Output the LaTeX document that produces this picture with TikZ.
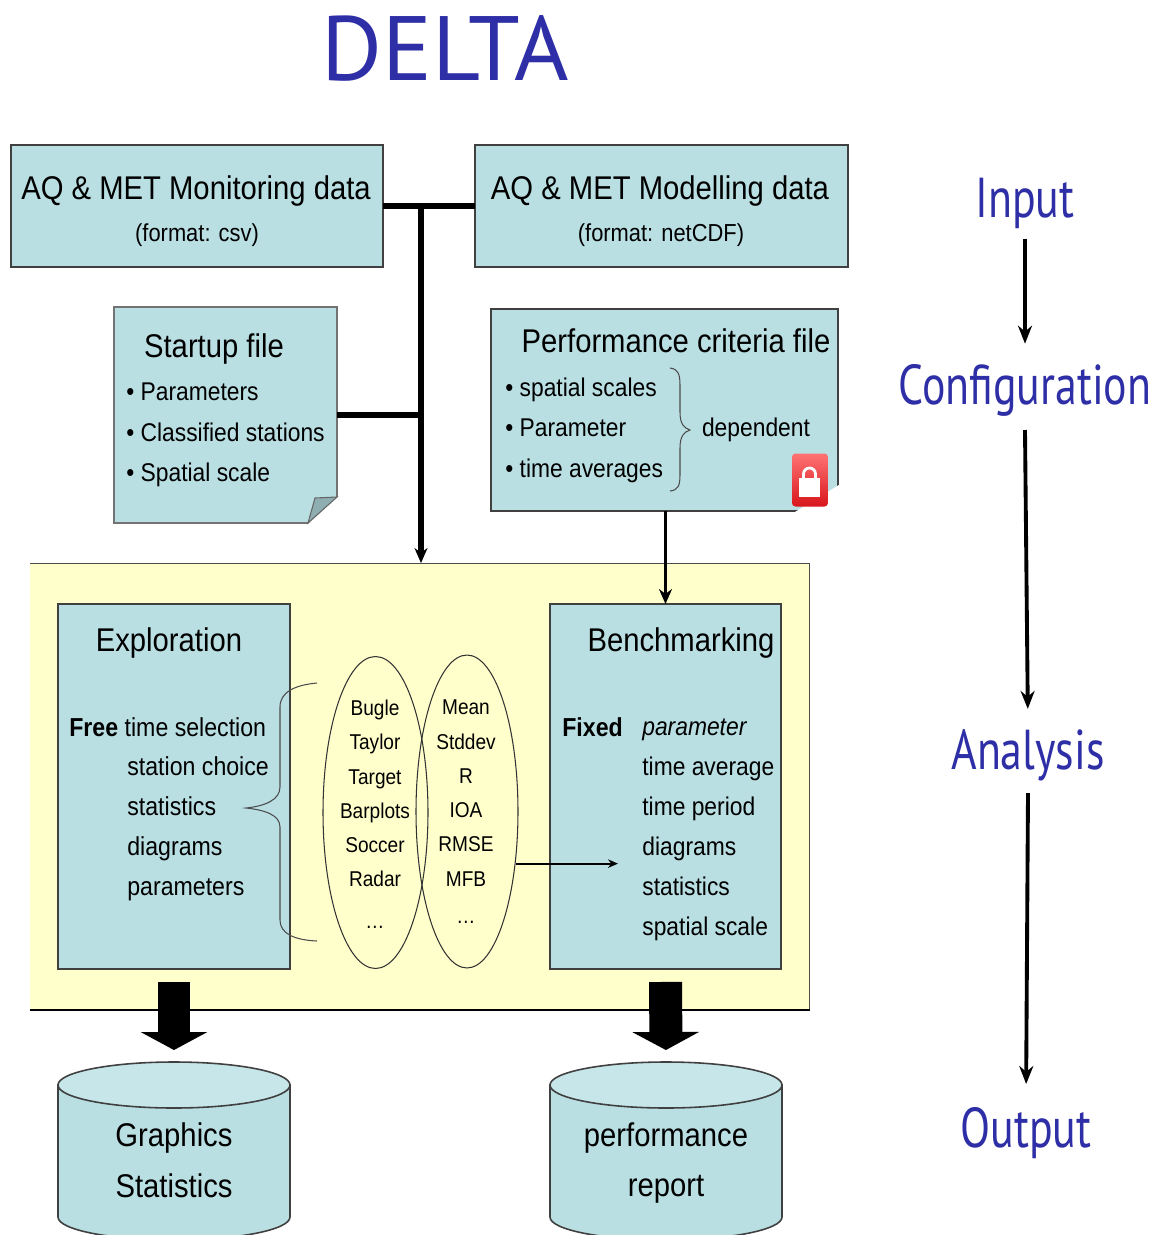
\documentclass[tikz,border=0pt]{standalone}
\usepackage{fontspec}
\setmainfont[FakeStretch=0.89]{Liberation Sans}
\newfontfamily\handfont[FakeStretch=0.78]{PT Sans}
\newfontfamily\headfont[FakeStretch=1.02]{PT Sans}
\usetikzlibrary{shapes,arrows,arrows.meta,positioning}
\definecolor{boxcyan}{HTML}{B9DFE3}
\definecolor{capcyan}{HTML}{C6E6E9}
\definecolor{panelyellow}{HTML}{FFFFCC}
\definecolor{handblue}{HTML}{2E2EA6}
\definecolor{foldgrey}{HTML}{8FAEB2}
\definecolor{lockred}{HTML}{D8161C}
\newcommand{\bigfont}{\fontsize{18.7}{22}\selectfont}
\newcommand{\subfont}{\fontsize{14}{18}\selectfont}
\newcommand{\listfont}{\fontsize{14.6}{23}\selectfont}
\newcommand{\stagefont}{\fontsize{14.8}{22.7}\selectfont}
\newcommand{\ellfont}{\fontsize{12.2}{19.5}\selectfont}
\begin{document}
\begin{tikzpicture}[x=0.02cm, y=-0.02cm,
    box/.style={rectangle, draw=black!75, fill=boxcyan, line width=0.9pt, inner sep=0pt, outer sep=0pt},
    blob/.style={ellipse, draw=black!80, line width=0.6pt, inner sep=0pt, minimum width=2.1cm, minimum height=6.24cm},
    store/.style={rectangle, inner sep=0pt, outer sep=0pt, minimum width=4.64cm, minimum height=3.56cm},
    storeline/.style={draw=black!75, line width=0.9pt},
    title/.style={font=\bigfont, inner sep=0pt},
    items/.style={font=\listfont, align=left, anchor=west, inner sep=0pt},
    stage/.style={font=\stagefont, align=left, anchor=west, inner sep=0pt},
    names/.style={font=\ellfont, align=center, inner sep=0pt},
    hand/.style={font=\handfont\fontsize{32}{36}\selectfont, text=handblue, inner sep=0pt},
    feed/.style={line width=3.2pt},
    arrow/.style={-{Stealth[length=0.3cm, width=0.26cm]}, line width=3pt},
    thin arrow/.style={-{Stealth[length=0.2cm, width=0.17cm]}, line width=1pt},
    flow/.style={-{Triangle[width=1.32cm, length=0.36cm]}, line width=0.66cm},
    stagearrow/.style={-{Stealth[length=0.36cm, width=0.28cm]}, line width=2.2pt},
    curly/.style={draw=black!70, line width=0.6pt}
]
    \clip (0,0) rectangle (1159,1235);

    \node[hand, font=\headfont\fontsize{52}{56}\selectfont] (delta) at (445,48) {DELTA};

    % input boxes
    \node[box, minimum width=7.44cm, minimum height=2.44cm] (monitoring) at (197,206) {};
    \node[title] (monitoringtxt) at (196,191) {AQ \& MET Monitoring data};
    \node[font=\subfont, inner sep=0pt] (monitoringfmt) at (197,235) {(format: csv)};
    \node[box, minimum width=7.46cm, minimum height=2.44cm] (modelling) at (661.5,206) {};
    \node[title] (modellingtxt) at (660,191) {AQ \& MET Modelling data};
    \node[font=\subfont, inner sep=0pt] (modellingfmt) at (661,235) {(format: netCDF)};

    % startup note
    \node[box, draw=black!55, minimum width=4.46cm, minimum height=4.32cm] (startup) at (225.5,415) {};
    \fill[white] (337.8,497) -- (337.8,524) -- (308,524) -- cycle;
    \draw[black!60, fill=foldgrey, line width=0.6pt] (337,497) -- (315,498) -- (308,523) -- cycle;
    \node[title] (startuptxt) at (214,349) {Startup file};
    \node[items] (startuplist) at (126,435) {\textbullet\ Parameters\\\textbullet\ Classified stations\\\textbullet\ Spatial scale};

    % criteria note
    \node[box, minimum width=6.94cm, minimum height=4.04cm] (criteria) at (664.5,410) {};
    \fill[white] (838.8,485) -- (838.8,512) -- (795,512) -- cycle;
    \node[title] (criteriatxt) at (676,341) {Performance criteria file};
    \node[items] (criterialist) at (505,430) {\textbullet\ spatial scales\\\textbullet\ Parameter\\\textbullet\ time averages};
    \draw[curly] (670,368) .. controls (678,369) and (680,374) .. (680,385) -- (680,412) .. controls (680,424) and (684,428) .. (690,430) .. controls (684,432) and (680,436) .. (680,448) -- (680,475) .. controls (680,486) and (678,490) .. (670,491);
    \node[font=\listfont, inner sep=0pt] (dependent) at (756,430) {dependent};
    \node[rectangle, rounded corners=2pt, top color=red!55!white, bottom color=lockred, minimum width=0.72cm, minimum height=1.06cm, inner sep=0pt] (lock) at (810,480) {};
    \draw[white, line width=1.6pt] (803.5,479) -- (803.5,474) arc[start angle=180, end angle=0, x radius=6, y radius=-6] -- (815.5,479);
    \fill[white] (799,478) rectangle (820,497);

    % working panel
    \node[rectangle, fill=panelyellow, minimum width=15.6cm, minimum height=8.94cm, inner sep=0pt, outer sep=0pt] (panel) at (420,786.5) {};
    \draw[black!70, line width=0.6pt] (panel.north west) -- (panel.north east) -- (panel.south east);
    \draw[line width=1.1pt] (panel.south west) -- (panel.south east);

    \node[box, minimum width=4.64cm, minimum height=7.3cm] (explore) at (174,786.5) {};
    \node[title] (exploretxt) at (169,643) {Exploration};
    \node[stage] (freelist) at (69,727) {\textbf{Free} time selection};
    \node[stage] (explorelist) at (127,829) {station choice\\statistics\\diagrams\\parameters};

    \node[box, minimum width=4.62cm, minimum height=7.3cm] (bench) at (665.5,786.5) {};
    \node[title] (benchtxt) at (681,643) {Benchmarking};
    \node[stage] (fixedtxt) at (562,727) {\textbf{Fixed}};
    \node[stage, font=\fontsize{14.6}{22.7}\selectfont] (benchlist) at (642,830) {\textit{parameter}\\time average\\time period\\diagrams\\statistics\\spatial scale};

    \draw[curly] (317,683) .. controls (295,685) and (280,692) .. (280,707) -- (280,787) .. controls (280,800) and (265,806) .. (246,808) .. controls (265,810) and (280,815) .. (280,827) -- (280,920) .. controls (280,934) and (295,940) .. (317,941);

    \node[blob] (diagrams) at (375.5,812.5) {};
    \node[blob, minimum width=2.04cm, minimum height=6.26cm] (measures) at (467,811.5) {};
    \node[names] (diagramnames) at (375,814) {Bugle\\Taylor\\Target\\Barplots\\Soccer\\Radar\\[4pt]\dots};
    \node[names] (measurenames) at (466,812) {Mean\\Stddev\\R\\IOA\\RMSE\\MFB\\[2pt]\dots};

    % outputs
    \node[store] (graphics) at (174,1151) {};
    \draw[storeline, fill=boxcyan] (58,1085) -- (58,1217) arc[start angle=180, end angle=360, x radius=116, y radius=-23] -- (290,1085) -- cycle;
    \draw[storeline, fill=capcyan] (174,1085) ellipse [x radius=116, y radius=23];
    \node[title, align=center, font=\fontsize{18.7}{29}\selectfont] (graphicstxt) at (174,1160) {Graphics\\Statistics};
    \node[store] (report) at (666,1151) {};
    \draw[storeline, fill=boxcyan] (550,1085) -- (550,1217) arc[start angle=180, end angle=360, x radius=116, y radius=-23] -- (782,1085) -- cycle;
    \draw[storeline, fill=capcyan] (666,1085) ellipse [x radius=116, y radius=23];
    \node[title, align=center, font=\fontsize{18.7}{29}\selectfont] (reporttxt) at (666,1163) {performance\\report};

    % connectors
    \coordinate (junction) at (421,206);
    \coordinate (statsin) at (618,862);
    \draw[feed] (monitoring) -- (modelling);
    \draw[feed] (startup) -- (startup -| junction);
    \draw[arrow] (junction) -- (panel.north -| junction);
    \draw[arrow, line width=1.8pt] (criteria.south -| bench.north) -- (bench.north);
    \draw[thin arrow] (measures.-47) -- (measures.-47 -| statsin);
    \draw[flow, shorten <=0.26cm, shorten >=0.24cm] (explore.south) -- (graphics.north);
    \draw[flow, shorten <=0.26cm, shorten >=0.24cm] (bench.south) -- (report.north);

    % stages
    \node[hand] (input) at (1025,203) {Input};
    \node[hand] (config) at (1025,390) {Configuration};
    \node[hand] (analysis) at (1028,755) {Analysis};
    \node[hand] (output) at (1026,1133) {Output};
    \draw[stagearrow, shorten <=0.2cm, shorten >=0.4cm] (input.south) -- (config.north);
    \draw[stagearrow, shorten >=0.4cm] (config) ++(0,40) -- (analysis.north);
    \draw[stagearrow, shorten >=0.46cm] (analysis) ++(0,38) -- (output.north);
\end{tikzpicture}
\end{document}
